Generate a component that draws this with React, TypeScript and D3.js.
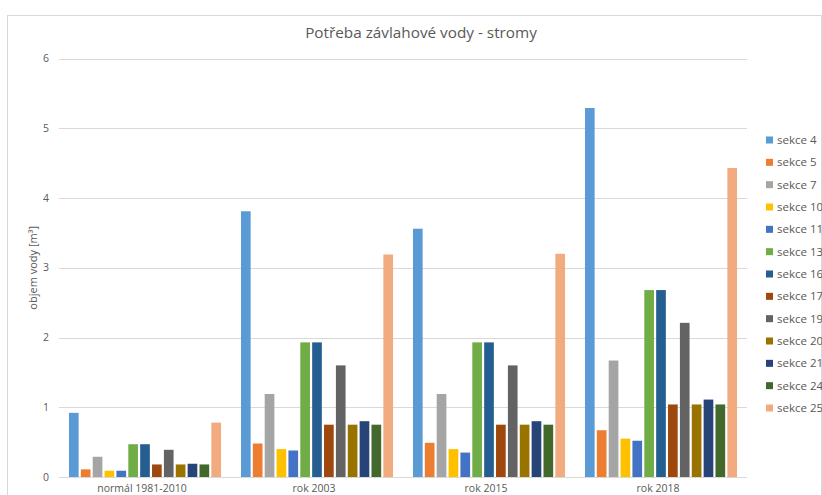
import React from 'react';
import * as d3 from 'd3';

// categories (x axis groups)
const categories = ['normál 1981-2010', 'rok 2003', 'rok 2015', 'rok 2018'];

// series names and colours
const seriesNames = ['sekce 4', 'sekce 5', 'sekce 7', 'sekce 10', 'sekce 11', 'sekce 13', 'sekce 16',
    'sekce 17', 'sekce 19', 'sekce 20', 'sekce 21', 'sekce 24', 'sekce 25'];
const seriesColors = ['#5B9BD5', '#ED7D31', '#A5A5A5', '#FFC000', '#4472C4', '#70AD47', '#255E91',
    '#9E480E', '#636363', '#997300', '#264478', '#43682B', '#F1AB7E'];

// values per category, in series order
const normal = [0.92, 0.11, 0.29, 0.09, 0.09, 0.47, 0.47, 0.18, 0.39, 0.18, 0.19, 0.18, 0.78];
const rok2003 = [3.81, 0.48, 1.19, 0.40, 0.38, 1.93, 1.93, 0.75, 1.60, 0.75, 0.80, 0.75, 3.19];
const rok2015 = [3.56, 0.49, 1.19, 0.40, 0.35, 1.93, 1.93, 0.75, 1.60, 0.75, 0.80, 0.75, 3.20];
const rok2018 = [5.29, 0.67, 1.67, 0.55, 0.52, 2.68, 2.68, 1.04, 2.21, 1.04, 1.11, 1.04, 4.43];
const values = [normal, rok2003, rok2015, rok2018];

const yTicks = [0, 1, 2, 3, 4, 5, 6];

const title = 'Potřeba závlahové vody - stromy';
const yTitle = 'objem vody [m³]';

function App() {
    const w = 822, h = 495;
    const plot = { left: 59, right: 747, top: 58.5, bottom: 477 };
    const font = '"Open Sans", "Noto Sans", sans-serif';
    const textColor = '#595959';

    const x0 = d3.scaleBand()
        .domain(categories)
        .range([plot.left, plot.right])
        .padding(0);

    const x1 = d3.scaleBand()
        .domain(seriesNames)
        .range([0, x0.bandwidth()])
        .paddingInner(0.185)
        .paddingOuter(0.84);

    const y = d3.scaleLinear()
        .domain([0, 6])
        .range([plot.bottom, plot.top]);

    const legendY = d3.scalePoint()
        .domain(seriesNames)
        .range([140, 408]);

    return (
        <svg width={w} height={h} style={{ position: 'absolute', left: 0, top: 0, background: '#fff' }}>
            {/* chart border */}
            <rect x={7.5} y={15.5} width={814} height={490} fill="#fff" stroke="#D9D9D9" />

            <text x={421} y={38} textAnchor="middle" fontFamily={font} fontSize={15.3} fill={textColor}>{title}</text>

            {/* gridlines and y labels */}
            {yTicks.map(t => (
                <g key={t}>
                    <line x1={plot.left} x2={plot.right} y1={Math.round(y(t)) + 0.5} y2={Math.round(y(t)) + 0.5}
                        stroke="#D9D9D9" strokeWidth={1} />
                    <text x={49} y={y(t)} dy="0.35em" textAnchor="end" fontFamily={font} fontSize={10.5} fill={textColor}>{t}</text>
                </g>
            ))}

            <text transform={`translate(33,${(plot.top + plot.bottom) / 2}) rotate(-90)`} textAnchor="middle"
                dy="0.35em" fontFamily={font} fontSize={11} fill={textColor}>{yTitle}</text>

            {/* bars */}
            {categories.map((c, ci) => (
                <g key={c} transform={`translate(${x0(c)},0)`}>
                    {seriesNames.map((s, si) => (
                        <rect key={s}
                            x={x1(s)}
                            y={y(values[ci][si])}
                            width={x1.bandwidth()}
                            height={y(0) - y(values[ci][si])}
                            fill={seriesColors[si]} />
                    ))}
                </g>
            ))}

            {/* x labels */}
            {categories.map(c => (
                <text key={c} x={x0(c) + x0.bandwidth() / 2 - 3} y={491.5} textAnchor="middle"
                    fontFamily={font} fontSize={10.5} fill={textColor}>{c}</text>
            ))}

            {/* legend */}
            {seriesNames.map((s, si) => (
                <g key={s} transform={`translate(766,${legendY(s)})`}>
                    <rect x={0} y={-3.5} width={7} height={7} fill={seriesColors[si]} />
                    <text x={11} y={0} dy="0.35em" fontFamily={font} fontSize={11.5} fill={textColor}>{s}</text>
                </g>
            ))}
        </svg>
    );
}

export default App;
